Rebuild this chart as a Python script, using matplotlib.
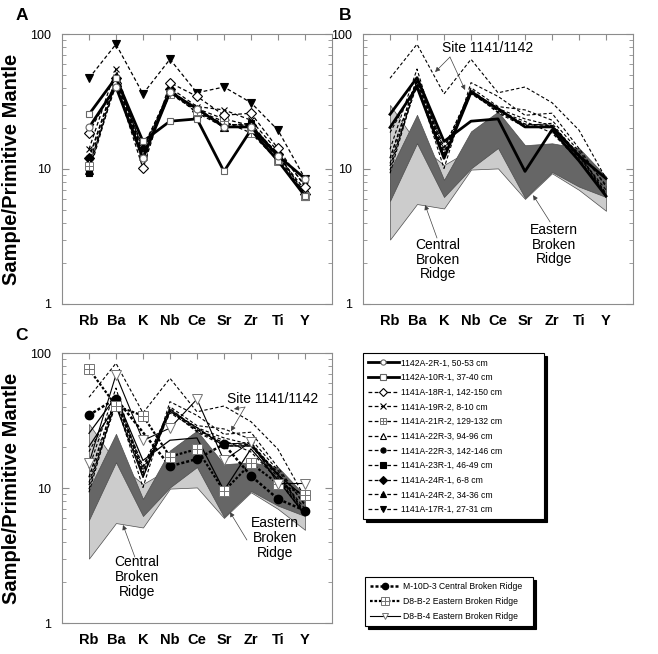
import numpy as np
import matplotlib
matplotlib.use('Agg')
import matplotlib.pyplot as plt

plt.rcParams['font.family'] = ['Liberation Sans', 'DejaVu Sans']

elements = ['Rb', 'Ba', 'K', 'Nb', 'Ce', 'Sr', 'Zr', 'Ti', 'Y']
x = np.arange(1, len(elements) + 1)

# Site 1142
s1142a_2r1 = [20.3, 40.5, 12.0, 37.0, 28.0, 20.5, 20.5, 12.5, 8.5]
s1142a_10r1 = [25.4, 47.5, 16.0, 22.6, 23.5, 9.6, 19.5, 11.5, 6.3]
# Site 1141
s1141a_18r1 = [18.6, 43.0, 10.1, 43.6, 34.5, 25.0, 25.9, 14.2, 7.4]
s1141a_19r2 = [14.0, 55.0, 12.0, 40.0, 29.0, 27.4, 23.0, 13.5, 7.6]
s1141a_21r2 = [10.5, 42.0, 12.5, 36.0, 27.0, 22.5, 18.5, 11.5, 6.3]
s1141a_22r3a = [11.0, 44.0, 13.0, 38.0, 28.0, 23.5, 21.0, 12.5, 7.0]
s1141a_22r3b = [12.0, 46.0, 13.5, 38.5, 27.0, 21.5, 21.0, 12.8, 6.6]
s1141a_23r1 = [9.3, 45.0, 13.0, 37.0, 26.5, 21.0, 21.8, 12.5, 6.4]
s1141a_24r1 = [12.1, 47.0, 14.0, 39.0, 27.0, 21.5, 21.0, 13.0, 6.5]
s1141a_24r2 = [9.8, 46.0, 14.5, 37.5, 26.0, 20.5, 20.5, 12.0, 6.3]
s1141a_17r1 = [47.0, 84.0, 36.0, 65.0, 36.7, 40.5, 31.0, 19.4, 8.5]

# Broken Ridge fields
central_upper = [29.8, 15.5, 10.7, 14.0, 22.0, 12.0, 13.0, 11.0, 7.5]
central_lower = [3.0, 5.5, 5.1, 9.9, 10.1, 6.0, 9.3, 7.0, 4.9]
eastern_upper = [9.8, 25.2, 8.3, 19.0, 26.6, 15.0, 15.5, 14.3, 8.8]
eastern_lower = [5.8, 15.5, 6.2, 10.1, 14.3, 6.1, 9.5, 7.4, 6.2]

# Broken Ridge samples (nan = not analysed)
m10d3 = [34.7, 46.0, np.nan, 14.5, 16.4, 21.1, 12.3, 8.3, 6.8]
d8b2 = [76.0, 40.7, 34.3, 17.1, 19.4, 9.5, 15.2, 10.8, 8.9]
d8b4 = [15.3, 69.0, 22.5, 27.8, 45.5, 16.0, 22.0, 10.8, 10.8]

dash = (0, (3, 2))
site = [
    ('1142A-2R-1, 50-53 cm', s1142a_2r1, '-', 'o', 'white', '0.4'),
    ('1142A-10R-1, 37-40 cm', s1142a_10r1, '-', 's', 'white', '0.4'),
    ('1141A-18R-1, 142-150 cm', s1141a_18r1, dash, 'D', 'white', 'black'),
    ('1141A-19R-2, 8-10 cm', s1141a_19r2, dash, 'x', 'none', 'black'),
    ('1141A-21R-2, 129-132 cm', s1141a_21r2, dash, 'boxplus', 'white', '0.45'),
    ('1141A-22R-3, 94-96 cm', s1141a_22r3a, dash, '^', 'white', 'black'),
    ('1141A-22R-3, 142-146 cm', s1141a_22r3b, dash, 'o', 'black', 'black'),
    ('1141A-23R-1, 46-49 cm', s1141a_23r1, dash, 's', 'black', 'black'),
    ('1141A-24R-1, 6-8 cm', s1141a_24r1, dash, 'D', 'black', 'black'),
    ('1141A-24R-2, 34-36 cm', s1141a_24r2, dash, '^', 'black', 'black'),
    ('1141A-17R-1, 27-31 cm', s1141a_17r1, dash, 'v', 'black', 'black'),
]


def setup(ax, ylabel):
    ax.set_yscale('log')
    ax.set_ylim(1, 100)
    ax.set_xlim(0, 10)
    ax.set_xticks(x)
    ax.set_xticklabels(elements, fontweight='bold', fontsize=10.5)
    ax.tick_params(axis='x', bottom=False, top=True, direction='in', length=4,
                   color='0.55', pad=7)
    ax.set_yticks([1, 10, 100])
    ax.set_yticklabels(['1', '10', '100'], fontsize=9)
    ax.tick_params(axis='y', which='both', left=True, right=True, direction='in',
                   color='0.55', pad=8)
    ax.tick_params(axis='y', which='major', length=5)
    ax.tick_params(axis='y', which='minor', length=3)
    for sp in ax.spines.values():
        sp.set_color('0.55')
        sp.set_linewidth(0.8)
    if ylabel:
        ax.set_ylabel('Sample/Primitive Mantle', fontsize=14.5, fontweight='bold')
        ax.yaxis.set_label_coords(-0.15, 0.5)


def draw_fields(ax):
    ax.fill_between(x, central_lower, central_upper, facecolor='0.8',
                    edgecolor='0.3', lw=0.5, zorder=1)
    ax.fill_between(x, eastern_lower, eastern_upper, facecolor='0.4',
                    edgecolor='0.3', lw=0.5, zorder=1.5)


def draw_site(ax, thick, thin, markers):
    handles = []
    for name, vals, ls, mk, mfc, mec in site[::-1]:
        lw = thick if ls == '-' else thin
        z = 3 if ls == '-' else 2
        if not markers:
            ax.plot(x, vals, ls=ls, color='black', lw=lw, zorder=z)
            continue
        if mk == 'boxplus':
            l1, = ax.plot(x, vals, ls=ls, color='black', lw=lw, marker='s',
                          ms=5.5, mfc=mfc, mec=mec, mew=0.7, zorder=z)
            l2, = ax.plot(x, vals, ls='none', marker='+', ms=5.5, mec=mec,
                          mew=0.7, zorder=z)
            handles.append(((l1, l2), name))
        else:
            ms = 6 if mk in ('^', 'v') else 5
            l1, = ax.plot(x, vals, ls=ls, color='black', lw=lw, marker=mk,
                          ms=ms, mfc=mfc, mec=mec, mew=0.8, zorder=z)
            handles.append((l1, name))
    return handles[::-1]


fig = plt.figure(figsize=(6.58, 6.54), dpi=100)
axA = fig.add_axes([0.0942, 0.5352, 0.4103, 0.4128])
axB = fig.add_axes([0.5517, 0.5352, 0.4103, 0.4128])
axC = fig.add_axes([0.0942, 0.0474, 0.4103, 0.4128])

# A
setup(axA, True)
legend_items = draw_site(axA, 2.0, 0.9, True)

# B
setup(axB, False)
draw_fields(axB)
draw_site(axB, 2.0, 0.8, False)

# C
setup(axC, True)
draw_fields(axC)
draw_site(axC, 0.9, 0.8, False)
br_items = []
mask = np.isfinite(m10d3)
l, = axC.plot(x[mask], np.array(m10d3)[mask], ls=(0, (1.2, 0.8)), lw=1.8,
              color='black', marker='o', ms=6, mfc='black', mec='black', zorder=4)
br_items.append((l, 'M-10D-3 Central Broken Ridge'))
l1, = axC.plot(x, d8b2, ls=(0, (1.2, 0.8)), lw=1.6, color='black', marker='s',
               ms=7, mfc='white', mec='0.45', mew=0.7, zorder=4)
l2, = axC.plot(x, d8b2, ls='none', marker='+', ms=7, mec='0.45', mew=0.7, zorder=4)
br_items.append(((l1, l2), 'D8-B-2 Eastern Broken Ridge'))
l, = axC.plot(x, d8b4, ls='-', lw=0.8, color='black', marker='v', ms=6.5,
              mfc='white', mec='0.45', mew=0.7, zorder=4)
br_items.append((l, 'D8-B-4 Eastern Broken Ridge'))

# annotations
arr = dict(arrowstyle='-|>', lw=0.5, color='0.25', mutation_scale=7,
           shrinkA=0, shrinkB=0)
tkw = dict(ha='center', va='center', fontsize=10, multialignment='center',
           linespacing=1.05)

axB.text(4.63, 78.8, 'Site 1141/1142', **tkw)
for hx, hy in [(2.67, 52.3), (3.78, 38.5)]:
    axB.annotate('', xy=(hx, hy), xytext=(3.22, 67.5), arrowprops=arr)
axB.text(2.78, 2.12, 'Central\nBroken\nRidge', **tkw)
axB.annotate('', xy=(2.30, 5.41), xytext=(2.74, 3.08), arrowprops=arr)
axB.text(7.07, 2.74, 'Eastern\nBroken\nRidge', **tkw)
axB.annotate('', xy=(6.30, 6.4), xytext=(6.93, 4.05), arrowprops=arr)

axC.text(7.81, 45.6, 'Site 1141/1142', **tkw)
for hx, hy in [(6.37, 38.5), (6.26, 26.4)]:
    axC.annotate('', xy=(hx, hy), xytext=(6.78, 39.8), arrowprops=arr)
axC.text(2.78, 2.19, 'Central\nBroken\nRidge', **tkw)
axC.annotate('', xy=(2.26, 5.32), xytext=(2.70, 3.08), arrowprops=arr)
axC.text(7.89, 4.26, 'Eastern\nBroken\nRidge', **tkw)
axC.annotate('', xy=(6.22, 6.64), xytext=(6.85, 4.12), arrowprops=arr)

# panel letters
for lab, px, py in [('A', 22, 15), ('B', 345, 15), ('C', 22, 335)]:
    fig.text(px / 658, 1 - py / 654, lab, fontsize=12.5, fontweight='bold',
             ha='center', va='center')

leg_kw = dict(loc='upper left', mode='expand', borderaxespad=0, fontsize=6.2,
              numpoints=1, markerscale=0.75, handlelength=3.5, handletextpad=0.3,
              labelspacing=0.66, borderpad=0.6, fancybox=False, edgecolor='black',
              shadow={'color': 'black', 'alpha': 1})
leg1 = fig.legend([h for h, _ in legend_items], [n for _, n in legend_items],
                  bbox_to_anchor=(0.552, 0.2095, 0.275, 0.2505), **leg_kw)
leg1.get_frame().set_linewidth(0.8)
leg2 = fig.legend([h for h, _ in br_items], [n for _, n in br_items],
                  bbox_to_anchor=(0.5547, 0.0474, 0.2553, 0.0703), **leg_kw)
leg2.get_frame().set_linewidth(0.8)

fig.savefig('out.png', dpi=100)
